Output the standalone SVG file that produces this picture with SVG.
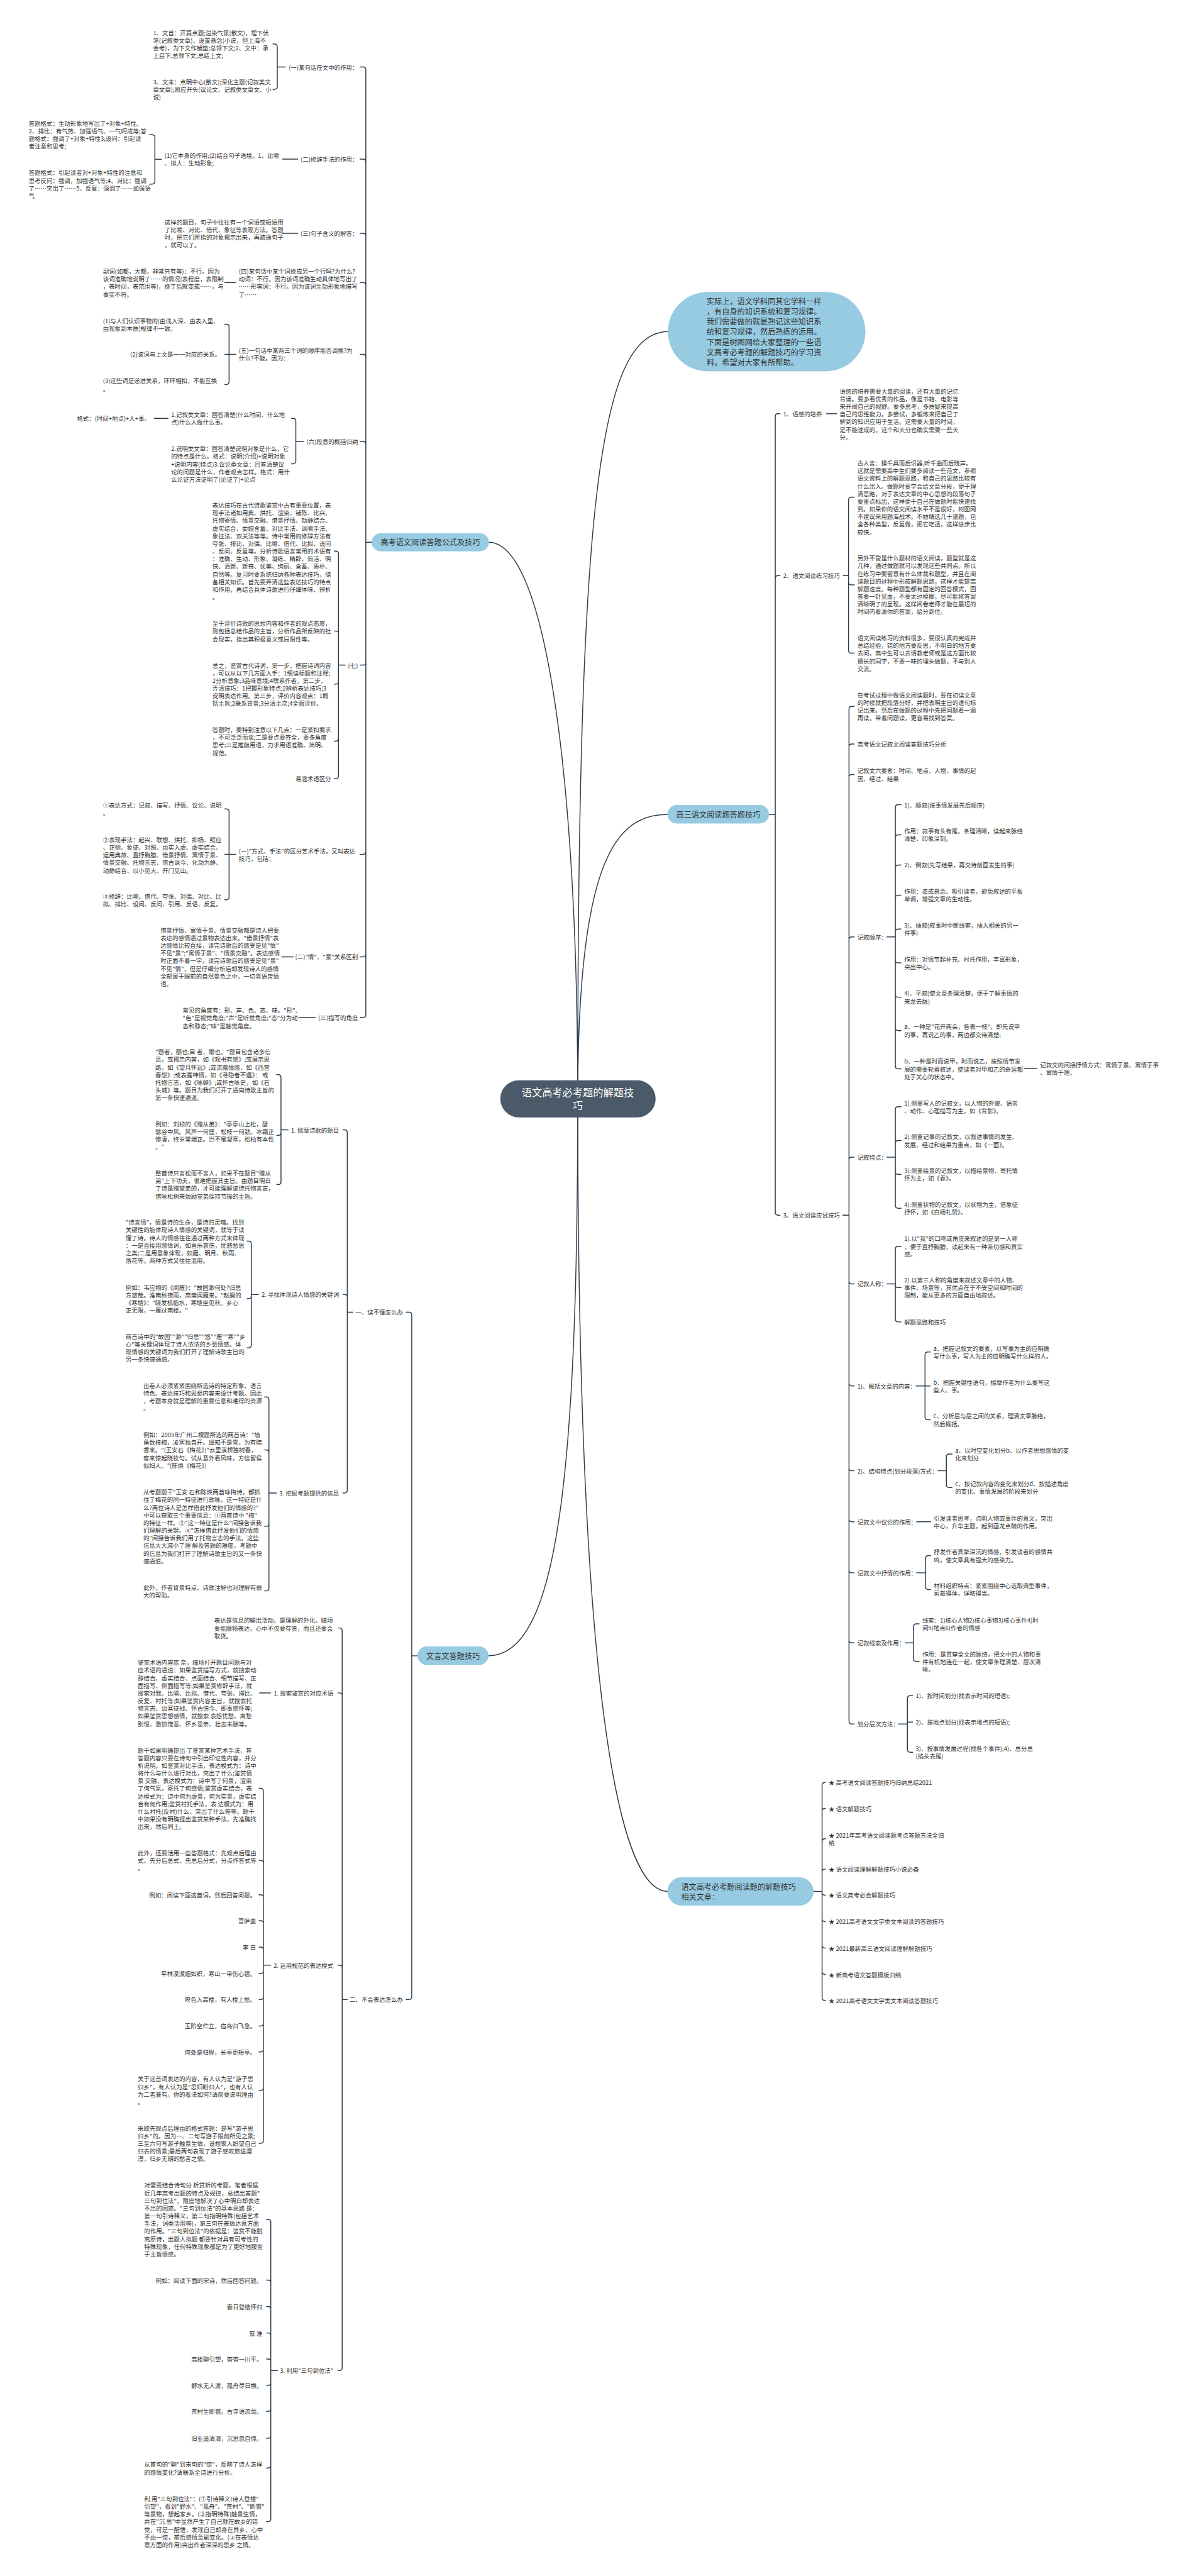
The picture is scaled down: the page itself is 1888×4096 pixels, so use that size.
<svg xmlns="http://www.w3.org/2000/svg" width="1888" height="4096" viewBox="0 0 1888 4096">
<style>
.t{font-family:"Noto Sans CJK SC","Noto Sans",sans-serif;font-size:12.8px;fill:#333;dominant-baseline:central}
.e{text-anchor:end}
.p{font-size:16.5px}
.m{text-anchor:middle}
.rt{font-family:"Noto Sans CJK SC","Noto Sans",sans-serif;font-size:22px;fill:#fff;text-anchor:middle;dominant-baseline:central}
.ln{fill:none;stroke:#2e3d4c;stroke-width:2}
.pill{fill:#96cbe2;stroke:#8cc3db;stroke-width:1}
.root{fill:#4b5a68}
</style>
<rect width="1888" height="4096" fill="#fff"/>
<g transform="scale(0.7375)">
<g id="connectors" class="ln">
<path d="M1246 2369 C1246 1100 1290 715 1441 715"/>
<path d="M1246 2369 C1246 1700 1180 1169 1054 1169"/>
<path d="M1246 2369 C1246 1850 1330 1756 1440 1756"/>
<path d="M1246 2369 C1246 3200 1200 3570 1053 3570"/>
<path d="M1246 2369 C1246 3700 1340 4078 1440 4078"/>
<path d="M802 1169 H789 V150.5 Q789 144.5 783 144.5 H776 M802 1169 H789 V349 Q789 343 783 343 H776 M802 1169 H789 V509 Q789 503 783 503 H776 M802 1169 H789 V615 Q789 609 783 609 H776 M802 1169 H789 V770 Q789 764 783 764 H776 M802 1169 H789 V958 Q789 952 783 952 H776 M802 1169 H789 V1428 Q789 1434 783 1434 H776 M802 1169 H789 V1836 Q789 1842 783 1842 H776 M802 1169 H789 V2057 Q789 2063 783 2063 H776 M802 1169 H789 V2188 Q789 2194 783 2194 H776"/>
<path d="M616 144.5 H598 V101 Q598 95 592 95 H588 M616 144.5 H598 V186.5 Q598 192.5 592 192.5 H588"/>
<path d="M643 343 H609 M643 503 H609 M509 609 H484 M363 902 H332 M633 2063 H607 M681 2194 H644"/>
<path d="M349 343.5 H334 V296.5 Q334 290.5 328 290.5 H322 M349 343.5 H334 V391 Q334 397 328 397 H322"/>
<path d="M509 764 H494 V705 Q494 699 488 699 H484 M509 764 H484 M509 764 H494 V823 Q494 829 488 829 H484"/>
<path d="M655 952 H638 V908 Q638 902 632 902 H628 M655 952 H638 V994 Q638 1000 632 1000 H628"/>
<path d="M745 1434 H730 V1194 Q730 1188 724 1188 H720 M745 1434 H730 V1366.5 Q730 1360.5 724 1360.5 H720 M745 1434 H730 V1469 Q730 1475 724 1475 H720 M745 1434 H730 V1592 Q730 1598 724 1598 H720 M745 1434 H730 V1673 Q730 1679 724 1679 H720"/>
<path d="M509 1842 H494 V1750 Q494 1744 488 1744 H484 M509 1842 H484 M509 1842 H494 V1934 Q494 1940 488 1940 H484"/>
<path d="M901 3570 H888 V2835 Q888 2829 882 2829 H875 M901 3570 H888 V4305 Q888 4311 882 4311 H875"/>
<path d="M762 2829 H749 V2442 Q749 2436 743 2436 H739 M762 2829 H749 V2797 Q749 2791 743 2791 H739 M762 2829 H749 V3213 Q749 3219 743 3219 H739"/>
<path d="M622 2436 H606 V2323 Q606 2317 600 2317 H596 M622 2436 H606 V2442 Q606 2448 600 2448 H596 M622 2436 H606 V2548 Q606 2554 600 2554 H596"/>
<path d="M558 2791 H542 V2682 Q542 2676 536 2676 H532 M558 2791 H542 V2794 Q542 2800 536 2800 H532 M558 2791 H542 V2900 Q542 2906 536 2906 H532"/>
<path d="M597 3219 H580 V3018 Q580 3012 574 3012 H570 M597 3219 H580 V3132 Q580 3126 574 3126 H570 M597 3219 H580 V3285 Q580 3291 574 3291 H570 M597 3219 H580 V3424 Q580 3430 574 3430 H570"/>
<path d="M750 4311 H738 V3516 Q738 3510 732 3510 H728 M750 4311 H738 V3656 Q738 3650 732 3650 H728 M750 4311 H738 V4243 Q738 4237 732 4237 H728 M750 4311 H738 V5105 Q738 5111 732 5111 H728"/>
<path d="M584 3650 H559"/>
<path d="M584 4237 H568 V3861.5 Q568 3855.5 562 3855.5 H558 M584 4237 H568 V4017 Q568 4011 562 4011 H558 M584 4237 H568 V4091 Q568 4085 562 4085 H558 M584 4237 H568 V4147 Q568 4141 562 4141 H558 M584 4237 H568 V4204 Q568 4198 562 4198 H558 M584 4237 H568 V4249 Q568 4255 562 4255 H558 M584 4237 H568 V4305 Q568 4311 562 4311 H558 M584 4237 H568 V4362 Q568 4368 562 4368 H558 M584 4237 H568 V4418 Q568 4424 562 4424 H558 M584 4237 H568 V4501 Q568 4507 562 4507 H558 M584 4237 H568 V4615 Q568 4621 562 4621 H558"/>
<path d="M599 5111 H584 V4791 Q584 4785 578 4785 H574 M599 5111 H584 V4922 Q584 4916 578 4916 H574 M599 5111 H584 V4979 Q584 4973 578 4973 H574 M599 5111 H584 V5036 Q584 5030 578 5030 H574 M599 5111 H584 V5092 Q584 5086 578 5086 H574 M599 5111 H584 V5137 Q584 5143 578 5143 H574 M599 5111 H584 V5193 Q584 5199 578 5199 H574 M599 5111 H584 V5251 Q584 5257 578 5257 H574 M599 5111 H584 V5315 Q584 5321 578 5321 H574 M599 5111 H584 V5430.5 Q584 5436.5 578 5436.5 H574"/>
<path d="M1658 1756 H1672 V898 Q1672 892 1678 892 H1683 M1658 1756 H1672 V1247 Q1672 1241 1678 1241 H1683 M1658 1756 H1672 V2614 Q1672 2620 1678 2620 H1683"/>
<path d="M1782 892 H1805"/>
<path d="M1818 1241 H1830 V1078 Q1830 1072 1836 1072 H1843 M1818 1241 H1830 V1255 Q1830 1261 1836 1261 H1843 M1818 1241 H1830 V1402 Q1830 1408 1836 1408 H1843"/>
<path d="M1817 2620 H1831 V1529 Q1831 1523 1837 1523 H1843 M1817 2620 H1831 V1610 Q1831 1604 1837 1604 H1843 M1817 2620 H1831 V1676 Q1831 1670 1837 1670 H1843 M1817 2620 H1831 V2026 Q1831 2020 1837 2020 H1843 M1817 2620 H1831 V2501 Q1831 2495 1837 2495 H1843 M1817 2620 H1831 V2762 Q1831 2768 1837 2768 H1843 M1817 2620 H1831 V2982 Q1831 2988 1837 2988 H1843 M1817 2620 H1831 V3165 Q1831 3171 1837 3171 H1843 M1817 2620 H1831 V3275 Q1831 3281 1837 3281 H1843 M1817 2620 H1831 V3385 Q1831 3391 1837 3391 H1843 M1817 2620 H1831 V3536 Q1831 3542 1837 3542 H1843 M1817 2620 H1831 V3711 Q1831 3717 1837 3717 H1843"/>
<path d="M1912 2020 H1931 V1741 Q1931 1735 1937 1735 H1944 M1912 2020 H1931 V1806 Q1931 1800 1937 1800 H1944 M1912 2020 H1931 V1871 Q1931 1865 1937 1865 H1944 M1912 2020 H1931 V1936 Q1931 1930 1937 1930 H1944 M1912 2020 H1931 V2009 Q1931 2003 1937 2003 H1944 M1912 2020 H1931 V2070 Q1931 2076 1937 2076 H1944 M1912 2020 H1931 V2144 Q1931 2150 1937 2150 H1944 M1912 2020 H1931 V2216 Q1931 2222 1937 2222 H1944 M1912 2020 H1931 V2298.5 Q1931 2304.5 1937 2304.5 H1944"/>
<path d="M2208 2304 H2237"/>
<path d="M1912 2495 H1931 V2392 Q1931 2386 1937 2386 H1944 M1912 2495 H1931 V2465 Q1931 2459 1937 2459 H1944 M1912 2495 H1931 V2526 Q1931 2532 1937 2532 H1944 M1912 2495 H1931 V2599 Q1931 2605 1937 2605 H1944"/>
<path d="M1912 2768 H1931 V2693 Q1931 2687 1937 2687 H1944 M1912 2768 H1931 V2770 Q1931 2776 1937 2776 H1944 M1912 2768 H1931 V2844 Q1931 2850 1937 2850 H1944"/>
<path d="M1975 2988 H1995 V2921 Q1995 2915 2001 2915 H2007 M1975 2988 H2007 M1975 2988 H1995 V3055 Q1995 3061 2001 3061 H2007"/>
<path d="M2022 3171 H2041 V3141 Q2041 3135 2047 3135 H2054 M2022 3171 H2041 V3201 Q2041 3207 2047 3207 H2054"/>
<path d="M1976 3281 H2008"/>
<path d="M1976 3391 H1996 V3360 Q1996 3354 2002 3354 H2008 M1976 3391 H1996 V3421 Q1996 3427 2002 3427 H2008"/>
<path d="M1952 3542 H1970 V3507 Q1970 3501 1976 3501 H1983 M1952 3542 H1970 V3576 Q1970 3582 1976 3582 H1983"/>
<path d="M1937 3717 H1957 V3662 Q1957 3656 1963 3656 H1969 M1937 3717 H1957 V3713 H1969 M1937 3717 H1957 V3772 Q1957 3778 1963 3778 H1969"/>
<path d="M1754 4078 H1773 V3849 Q1773 3843 1779 3843 H1781 M1754 4078 H1773 V3905 Q1773 3899 1779 3899 H1781 M1754 4078 H1773 V3970.5 Q1773 3964.5 1779 3964.5 H1781 M1754 4078 H1773 V4036 Q1773 4030 1779 4030 H1781 M1754 4078 H1773 V4080 Q1773 4086 1779 4086 H1781 M1754 4078 H1773 V4137 Q1773 4143 1779 4143 H1781 M1754 4078 H1773 V4194 Q1773 4200 1779 4200 H1781 M1754 4078 H1773 V4251 Q1773 4257 1779 4257 H1781 M1754 4078 H1773 V4307 Q1773 4313 1779 4313 H1781"/>
</g>

<g id="root"><rect class="root" x="1079" y="2329" width="335" height="80" rx="40"/><text class="rt" x="1246" y="2354">语文高考必考题的解题技<tspan x="1246" dy="29">巧</tspan></text></g>

<g id="intro"><rect class="pill" x="1441" y="630" width="425" height="170" rx="85"/><text class="t p" x="1524" y="649"><tspan x="1524">实际上，语文学科同其它学科一样</tspan><tspan x="1524" dy="22">，有自身的知识系统和复习规律。</tspan><tspan x="1524" dy="22">我们需要做的就是熟记这些知识系</tspan><tspan x="1524" dy="22">统和复习规律，然后熟练的运用。</tspan><tspan x="1524" dy="22">下面是树图网给大家整理的一些语</tspan><tspan x="1524" dy="22">文高考必考题的解题技巧的学习资</tspan><tspan x="1524" dy="22">料，希望对大家有所帮助。</tspan></text></g>

<g id="A0"><rect class="pill" x="802" y="1150" width="252" height="38" rx="19"/><text class="t p m" x="928" y="1169">高考语文阅读答题公式及技巧</text></g>
<g id="A1"><text class="t e" x="772" y="144.5">(一)某句话在文中的作用：</text></g>
<g id="A1a"><text class="t" x="330" y="70"><tspan x="330">1、文首：开篇点题;渲染气氛(散文)，埋下伏</tspan><tspan x="330" dy="16.5">笔(记叙类文章)，设置悬念(小说，但上海不</tspan><tspan x="330" dy="16.5">会考)，为下文作铺垫;总领下文;2、文中：承</tspan><tspan x="330" dy="16.5">上启下;总领下文;总结上文;</tspan></text></g>
<g id="A1b"><text class="t" x="330" y="176"><tspan x="330">3、文末：点明中心(散文);深化主题(记叙类文</tspan><tspan x="330" dy="16.5">章文章);照应开头(议论文、记叙类文章文、小</tspan><tspan x="330" dy="16.5">说)</tspan></text></g>
<g id="A2"><text class="t e" x="772" y="343">(二)修辞手法的作用：</text></g>
<g id="A2c"><text class="t" x="355" y="335"><tspan x="355">(1)它本身的作用;(2)结合句子语境。1、比喻</tspan><tspan x="355" dy="16.5">、拟人：生动形象;</tspan></text></g>
<g id="A2c1"><text class="t" x="62" y="265.5"><tspan x="62">答题格式：生动形象地写出了+对象+特性。</tspan><tspan x="62" dy="16.5">2、排比：有气势、加强语气、一气呵成等;答</tspan><tspan x="62" dy="16.5">题格式：强调了+对象+特性3;设问：引起读</tspan><tspan x="62" dy="16.5">者注意和思考;</tspan></text></g>
<g id="A2c2"><text class="t" x="62" y="372"><tspan x="62">答题格式：引起读者对+对象+特性的注意和</tspan><tspan x="62" dy="16.5">思考反问：强调，加强语气等;4、对比：强调</tspan><tspan x="62" dy="16.5">了……突出了……5、反复：强调了……加强语</tspan><tspan x="62" dy="16.5">气</tspan></text></g>
<g id="A3"><text class="t e" x="772" y="503">(三)句子含义的解答：</text></g>
<g id="A3a"><text class="t" x="355" y="478"><tspan x="355">这样的题目，句子中往往有一个词语或短语用</tspan><tspan x="355" dy="16.5">了比喻、对比、借代、象征等表现方法。答题</tspan><tspan x="355" dy="16.5">时，把它们所指的对象揭示出来，再疏通句子</tspan><tspan x="355" dy="16.5">，就可以了。</tspan></text></g>
<g id="A4"><text class="t" x="515" y="584.5"><tspan x="515">(四)某句话中某个词换成另一个行吗?为什么?</tspan><tspan x="515" dy="16.5">动词：不行。因为该词准确生动具体地写出了</tspan><tspan x="515" dy="16.5">……形容词：不行。因为该词生动形象地描写</tspan><tspan x="515" dy="16.5">了……</tspan></text></g>
<g id="A4a"><text class="t" x="222" y="584.5"><tspan x="222">副词(如都，大都，非常只有等)：不行。因为</tspan><tspan x="222" dy="16.5">该词准确地说明了……的情况(表程度，表限制</tspan><tspan x="222" dy="16.5">，表时间，表范围等)，换了后就变成……，与</tspan><tspan x="222" dy="16.5">事实不符。</tspan></text></g>
<g id="A5"><text class="t" x="515" y="755.5"><tspan x="515">(五)一句话中某两三个词的顺序能否调换?为</tspan><tspan x="515" dy="16.5">什么?不能。因为：</tspan></text></g>
<g id="A5a"><text class="t" x="222" y="691"><tspan x="222">(1)与人们认识事物的(由浅入深、由表入里、</tspan><tspan x="222" dy="16.5">由现象到本质)规律不一致。</tspan></text></g>
<g id="A5b"><text class="t e" x="476" y="764">(2)该词与上文是一一对应的关系。</text></g>
<g id="A5c"><text class="t" x="222" y="821"><tspan x="222">(3)这些词是递进关系，环环相扣，不能互换</tspan><tspan x="222" dy="16.5">。</tspan></text></g>
<g id="A6"><text class="t e" x="772" y="952">(六)段意的概括归纳</text></g>
<g id="A6a"><text class="t" x="369" y="894"><tspan x="369">1.记叙类文章：回答清楚(什么时间、什么地</tspan><tspan x="369" dy="16.5">点)什么人做什么事。</tspan></text></g>
<g id="A6a1"><text class="t" x="166" y="902">格式：(时间+地点)+人+事。</text></g>
<g id="A6b"><text class="t" x="369" y="967"><tspan x="369">2.说明类文章：回答清楚说明对象是什么，它</tspan><tspan x="369" dy="16.5">的特点是什么。格式：说明(介绍)+说明对象</tspan><tspan x="369" dy="16.5">+说明内容(特点)3.议论类文章：回答清楚议</tspan><tspan x="369" dy="16.5">论的问题是什么，作者观点怎样。格式：用什</tspan><tspan x="369" dy="16.5">么论证方法证明了(论证了)+论点</tspan></text></g>
<g id="A7"><text class="t e" x="772" y="1434">(七)</text></g>
<g id="A7a"><text class="t" x="458" y="1089"><tspan x="458">表达技巧在古代诗歌鉴赏中占有重要位置，表</tspan><tspan x="458" dy="16.5">现手法诸如用典、烘托、渲染、铺陈、比兴、</tspan><tspan x="458" dy="16.5">托物寄情、情景交融、借景抒情、动静结合、</tspan><tspan x="458" dy="16.5">虚实结合、委婉含蓄、对比手法、讽喻手法、</tspan><tspan x="458" dy="16.5">象征法、双关法等等。诗中常用的修辞方法有</tspan><tspan x="458" dy="16.5">夸张、排比、对偶、比喻、借代、比拟、设问</tspan><tspan x="458" dy="16.5">、反问、反复等。分析诗歌语言常用的术语有</tspan><tspan x="458" dy="16.5">：准确、生动、形象、凝练、精辟、简洁、明</tspan><tspan x="458" dy="16.5">快、清新、新奇、优美、绚丽、含蓄、质朴、</tspan><tspan x="458" dy="16.5">自然等。复习时要系统归纳各种表达技巧，储</tspan><tspan x="458" dy="16.5">备相关知识。首先要弄清这些表达技巧的特点</tspan><tspan x="458" dy="16.5">和作用，再结合具体诗歌进行仔细体味、辨析</tspan><tspan x="458" dy="16.5">。</tspan></text></g>
<g id="A7b"><text class="t" x="458" y="1344"><tspan x="458">至于评价诗歌的思想内容和作者的观点态度，</tspan><tspan x="458" dy="16.5">则包括总结作品的主旨，分析作品所反映的社</tspan><tspan x="458" dy="16.5">会现实，指出其积极意义或局限性等。</tspan></text></g>
<g id="A7c"><text class="t" x="458" y="1434"><tspan x="458">总之，鉴赏古代诗词，第一步，把握诗词内容</tspan><tspan x="458" dy="16.5">，可以从以下几方面入手：1细读标题和注释;</tspan><tspan x="458" dy="16.5">2分析意象;3品味意境;4联系作者。第二步，</tspan><tspan x="458" dy="16.5">弄清技巧：1把握形象特点;2辨析表达技巧;3</tspan><tspan x="458" dy="16.5">说明表达作用。第三步，评价内容观点：1概</tspan><tspan x="458" dy="16.5">括主旨;2联系背景;3分清主次;4全面评价。</tspan></text></g>
<g id="A7d"><text class="t" x="458" y="1573"><tspan x="458">答题时，要特别注意以下几点：一是紧扣要求</tspan><tspan x="458" dy="16.5">，不可泛泛而谈;二是要点要齐全，要多角度</tspan><tspan x="458" dy="16.5">思考;三是推敲用语，力求用语准确、简明、</tspan><tspan x="458" dy="16.5">规范。</tspan></text></g>
<g id="A7e"><text class="t e" x="714" y="1679">易混术语区分</text></g>
<g id="A8"><text class="t" x="515" y="1834"><tspan x="515">(一)"方式、手法"的区分艺术手法，又叫表达</tspan><tspan x="515" dy="16.5">技巧，包括：</tspan></text></g>
<g id="A8a"><text class="t" x="222" y="1736"><tspan x="222">①表达方式：记叙、描写、抒情、议论、说明</tspan><tspan x="222" dy="16.5">。</tspan></text></g>
<g id="A8b"><text class="t" x="222" y="1810"><tspan x="222">②表现手法：起兴、联想、烘托、抑扬、照应</tspan><tspan x="222" dy="16.5">、正侧、象征、对照、由实入虚、虚实结合、</tspan><tspan x="222" dy="16.5">运用典故、直抒胸臆、借景抒情、寓情于景、</tspan><tspan x="222" dy="16.5">情景交融、托物言志、借古讽今、化动为静、</tspan><tspan x="222" dy="16.5">动静结合、以小见大、开门见山。</tspan></text></g>
<g id="A8c"><text class="t" x="222" y="1932"><tspan x="222">③修辞：比喻、借代、夸张、对偶、对比、比</tspan><tspan x="222" dy="16.5">拟、排比、设问、反问、引用、反语、反复。</tspan></text></g>
<g id="A9"><text class="t e" x="772" y="2063">(二)"情"、"景"关系区别</text></g>
<g id="A9a"><text class="t" x="346" y="2005"><tspan x="346">借景抒情、寓情于景、情景交融都是诗人把要</tspan><tspan x="346" dy="16.5">表达的感情通过景物表达出来。"借景抒情"表</tspan><tspan x="346" dy="16.5">达感情比较直接，读完诗歌后的感受是见"情"</tspan><tspan x="346" dy="16.5">不见"景";"寓情于景"、"情景交融"。表达感情</tspan><tspan x="346" dy="16.5">时正面不着一字，读完诗歌后的感受是见"景"</tspan><tspan x="346" dy="16.5">不见"情"，但是仔细分析后却发现诗人的感情</tspan><tspan x="346" dy="16.5">全部寓于眼前的自然景色之中，一切景语皆情</tspan><tspan x="346" dy="16.5">语。</tspan></text></g>
<g id="A10"><text class="t e" x="772" y="2194">(三)描写的角度</text></g>
<g id="A10a"><text class="t" x="394" y="2178"><tspan x="394">常见的角度有：形、声、色、态、味。"形"、</tspan><tspan x="394" dy="16.5">"色"是视觉角度;"声"是听觉角度;"态"分为动</tspan><tspan x="394" dy="16.5">态和静态;"味"是触觉角度。</tspan></text></g>

<g id="B0"><rect class="pill" x="901" y="3550" width="152" height="39" rx="19.5"/><text class="t p m" x="977" y="3570">文言文答题技巧</text></g>
<g id="B1"><text class="t e" x="869" y="2829">一、读不懂怎么办</text></g>
<g id="B1a"><text class="t e" x="731" y="2436">1. 揣摩诗歌的题目</text></g>
<g id="B1a1"><text class="t" x="335" y="2267.5"><tspan x="335">"题者，额也;目 者，眼也。"题目包含诸多信</tspan><tspan x="335" dy="16.5">息，或揭示内容，如《观书有感》;或展示思</tspan><tspan x="335" dy="16.5">路，如《望月怀远》;或流露情感，如《西宫</tspan><tspan x="335" dy="16.5">春怨》;或表露神情，如《寻隐者不遇》： 或</tspan><tspan x="335" dy="16.5">托物言志，如《咏蝉》;或怀古咏史，如《石</tspan><tspan x="335" dy="16.5">头城》等。题目为我们打开了通向诗歌主旨的</tspan><tspan x="335" dy="16.5">第一条快速通道。</tspan></text></g>
<g id="B1a2"><text class="t" x="335" y="2423"><tspan x="335">例如：刘桢的《赠从弟》："亭亭山上松，瑟</tspan><tspan x="335" dy="16.5">瑟谷中风。风声一何盛，松枝一何劲。冰霜正</tspan><tspan x="335" dy="16.5">惨凄，终岁常端正。岂不罹凝寒，松柏有本性</tspan><tspan x="335" dy="16.5">。"</tspan></text></g>
<g id="B1a3"><text class="t" x="335" y="2529"><tspan x="335">整首诗只言松而不言人，如果不在题目"赠从</tspan><tspan x="335" dy="16.5">弟"上下功夫，很难把握其主旨。由题目明白</tspan><tspan x="335" dy="16.5">了诗是赠堂弟的，才可能理解该诗托物言志，</tspan><tspan x="335" dy="16.5">借咏松树来勉励堂弟保持节操的主旨。</tspan></text></g>
<g id="B1b"><text class="t e" x="731" y="2791">2. 寻找体现诗人情感的关键词</text></g>
<g id="B1b1"><text class="t" x="271" y="2635"><tspan x="271">"诗言情"，情是诗的生命，是诗的灵魂。找到</tspan><tspan x="271" dy="16.5">关键性的能体现诗人情感的关键词，就等于读</tspan><tspan x="271" dy="16.5">懂了诗。诗人的情感往往通过两种方式来体现</tspan><tspan x="271" dy="16.5">：一是直接用感情词，如喜乐哀伤，忧悲愁思</tspan><tspan x="271" dy="16.5">之类;二是用意象体现，如雁、明月、秋雨、</tspan><tspan x="271" dy="16.5">落花等。两种方式又往往混用。</tspan></text></g>
<g id="B1b2"><text class="t" x="271" y="2775"><tspan x="271">例如：韦应物的《闻雁》："故园渺何处?归思</tspan><tspan x="271" dy="16.5">方悠哉。淮南秋夜雨，高斋闻雁来。"赵嘏的</tspan><tspan x="271" dy="16.5">《寒塘》："晓发梳临水，寒塘坐见秋。乡心</tspan><tspan x="271" dy="16.5">正无限，一雁过南楼。"</tspan></text></g>
<g id="B1b3"><text class="t" x="271" y="2881"><tspan x="271">两首诗中的"故园""渺""归思""悠""雁""寒""乡</tspan><tspan x="271" dy="16.5">心"等关键词体现了诗人浓浓的乡愁情感。体</tspan><tspan x="271" dy="16.5">现情感的关键词为我们打开了理解诗歌主旨的</tspan><tspan x="271" dy="16.5">另一条快速通道。</tspan></text></g>
<g id="B1c"><text class="t e" x="731" y="3219">3. 挖掘考题提供的信息</text></g>
<g id="B1c1"><text class="t" x="309" y="2987"><tspan x="309">出卷人必须紧紧围绕所选诗的特定形象、语言</tspan><tspan x="309" dy="16.5">特色、表达技巧和思想内容来设计考题。因此</tspan><tspan x="309" dy="16.5">，考题本身就是理解的重要信息和难得的资源</tspan><tspan x="309" dy="16.5">。</tspan></text></g>
<g id="B1c2"><text class="t" x="309" y="3093"><tspan x="309">例如：2005年广州二模题所选的两首诗："墙</tspan><tspan x="309" dy="16.5">角数枝梅，凌寒独自开。遥知不是雪，为有暗</tspan><tspan x="309" dy="16.5">香来。"(王安石《梅花》)"云里溪桥独树春，</tspan><tspan x="309" dy="16.5">客来惊起晓妆匀。试从意外看风味，方信留侯</tspan><tspan x="309" dy="16.5">似妇人。"(陈焕《梅花》)</tspan></text></g>
<g id="B1c3"><text class="t" x="309" y="3216.5"><tspan x="309">从考题题干"王安 石和陈焕两首咏梅诗，都抓</tspan><tspan x="309" dy="16.5">住了梅花的同一特征进行歌咏，这一特征是什</tspan><tspan x="309" dy="16.5">么?两位诗人是怎样借此抒发他们的情感的?"</tspan><tspan x="309" dy="16.5">中可以获取三个重要信息：①两首诗中 "梅"</tspan><tspan x="309" dy="16.5">的特征一样。②"这一特征是什么"间接告诉我</tspan><tspan x="309" dy="16.5">们理解的关键。③"怎样借此抒发他们的情感</tspan><tspan x="309" dy="16.5">的"间接告诉我们用了托物言志的手法。这些</tspan><tspan x="309" dy="16.5">信息大大减小了理 解及答题的难度。考题中</tspan><tspan x="309" dy="16.5">的信息为我们打开了理解诗歌主旨的又一条快</tspan><tspan x="309" dy="16.5">速通道。</tspan></text></g>
<g id="B1c4"><text class="t" x="309" y="3422"><tspan x="309">此外，作者背景特点、诗歌注解也对理解有很</tspan><tspan x="309" dy="16.5">大的帮助。</tspan></text></g>
<g id="B2"><text class="t e" x="869" y="4311">二、不会表达怎么办</text></g>
<g id="B2x"><text class="t" x="462" y="3493.5"><tspan x="462">表达是信息的输出活动，是理解的外化。临场</tspan><tspan x="462" dy="16.5">要能顺畅表达，心中不仅要存货，而且还要会</tspan><tspan x="462" dy="16.5">取货。</tspan></text></g>
<g id="B2a"><text class="t e" x="719" y="3650">1. 搜索鉴赏的对应术语</text></g>
<g id="B2a1"><text class="t" x="297" y="3584"><tspan x="297">鉴赏术语内容庞 杂，临场打开题目问题与对</tspan><tspan x="297" dy="16.5">应术语的通道：如果鉴赏描写方式，就搜索动</tspan><tspan x="297" dy="16.5">静结合、虚实结合、点面结合、细节描写、正</tspan><tspan x="297" dy="16.5">面描写、侧面描写等;如果鉴赏修辞手法，就</tspan><tspan x="297" dy="16.5">搜索对我、比喻、比拟、借代、夸张、排比、</tspan><tspan x="297" dy="16.5">反复、衬托等;如果鉴赏内容主旨，就搜索托</tspan><tspan x="297" dy="16.5">物言志、边塞征战、怀古伤今、即事感怀等;</tspan><tspan x="297" dy="16.5">如果鉴赏思想感情，就搜索 哀怨忧愁、离愁</tspan><tspan x="297" dy="16.5">别恨、激愤憎恶、怀乡思亲、壮志未酬等。</tspan></text></g>
<g id="B2b"><text class="t e" x="719" y="4237">2. 运用规范的表达模式</text></g>
<g id="B2b1"><text class="t" x="297" y="3773"><tspan x="297">题干如果明确提出 了鉴赏某种艺术手法，其</tspan><tspan x="297" dy="16.5">答题内容只要在诗句中引出印证性内容，并分</tspan><tspan x="297" dy="16.5">析说明。如鉴赏对比手法，表达模式为：诗中</tspan><tspan x="297" dy="16.5">将什么与什么进行对比，突出了什么;鉴赏情</tspan><tspan x="297" dy="16.5">景 交融，表达模式为：诗中写了何景，渲染</tspan><tspan x="297" dy="16.5">了何气氛，寄托了何感情;鉴赏虚实结合，表</tspan><tspan x="297" dy="16.5">达模式为：诗中何为虚景，何为实景，虚实结</tspan><tspan x="297" dy="16.5">合有何作用;鉴赏衬托手法，表 达模式为：用</tspan><tspan x="297" dy="16.5">什么衬托(反衬)什么，突出了什么等等。题干</tspan><tspan x="297" dy="16.5">中如果没有明确提出鉴赏某种手法，先准确找</tspan><tspan x="297" dy="16.5">出来，然后同上。</tspan></text></g>
<g id="B2b2"><text class="t" x="297" y="3994.5"><tspan x="297">此外，还要活用一些答题格式：先观点后理由</tspan><tspan x="297" dy="16.5">式、先分后总式、先总后分式，分点作答式等</tspan><tspan x="297" dy="16.5">。</tspan></text></g>
<g id="B2b3"><text class="t e" x="552" y="4085">例如：阅读下面这首词，然后回答问题。</text></g>
<g id="B2b4"><text class="t e" x="552" y="4141">菩萨蛮</text></g>
<g id="B2b5"><text class="t e" x="552" y="4198">李 白</text></g>
<g id="B2b6"><text class="t e" x="552" y="4255">平林漠漠烟如织，寒山一带伤心碧。</text></g>
<g id="B2b7"><text class="t e" x="552" y="4311">暝色入高楼，有人楼上愁。</text></g>
<g id="B2b8"><text class="t e" x="552" y="4368">玉阶空伫立，宿鸟归飞急。</text></g>
<g id="B2b9"><text class="t e" x="552" y="4424">何处是归程，长亭更短亭。</text></g>
<g id="B2b10"><text class="t" x="297" y="4482"><tspan x="297">关于这首词表达的内容，有人认为是"游子思</tspan><tspan x="297" dy="16.5">归乡"，有人认为是"思妇盼归人"，也有人认</tspan><tspan x="297" dy="16.5">为二者兼有。你的看法如何?请简要说明理由</tspan><tspan x="297" dy="16.5">。</tspan></text></g>
<g id="B2b11"><text class="t" x="297" y="4588"><tspan x="297">采取先观点后理由的格式答题：是写"游子思</tspan><tspan x="297" dy="16.5">归乡"的。因为一、二句写游子眼前所见之景;</tspan><tspan x="297" dy="16.5">三至六句写游子触景生情，设想家人盼望自己</tspan><tspan x="297" dy="16.5">归去的情景;最后两句表现了游子感叹旅途漫</tspan><tspan x="297" dy="16.5">漫，归乡无期的愁苦之情。</tspan></text></g>
<g id="B2c"><text class="t e" x="719" y="5111">3. 利用"三句到位法"</text></g>
<g id="B2c1"><text class="t" x="311" y="4711"><tspan x="311">对需要结合诗句分 析赏析的考题，笔者根据</tspan><tspan x="311" dy="16.5">近几年高考出题的特点及规律，总结出答题"</tspan><tspan x="311" dy="16.5">三句到位法"，限度地解决了心中明白却表达</tspan><tspan x="311" dy="16.5">不出的困惑。"三句到位法"的基本思路 是：</tspan><tspan x="311" dy="16.5">第一句引诗释义，第二句指明特殊(包括艺术</tspan><tspan x="311" dy="16.5">手法，词类活用等)，第三句在表情达意方面</tspan><tspan x="311" dy="16.5">的作用。"三句到位法"的依据是：鉴赏不能脱</tspan><tspan x="311" dy="16.5">离原诗，出题人拟题 都要针对具有可考性的</tspan><tspan x="311" dy="16.5">特殊现象，任何特殊现象都是为了更好地服务</tspan><tspan x="311" dy="16.5">于主旨情感。</tspan></text></g>
<g id="B2c2"><text class="t e" x="566" y="4916">例如：阅读下面的宋诗，然后回答问题。</text></g>
<g id="B2c3"><text class="t e" x="566" y="4973">春日登楼怀归</text></g>
<g id="B2c4"><text class="t e" x="566" y="5030">寇 准</text></g>
<g id="B2c5"><text class="t e" x="566" y="5086">高楼聊引望，杳杳一川平。</text></g>
<g id="B2c6"><text class="t e" x="566" y="5143">野水无人渡，孤舟尽日横。</text></g>
<g id="B2c7"><text class="t e" x="566" y="5199">荒村生断霭，古寺语流莺。</text></g>
<g id="B2c8"><text class="t e" x="566" y="5257">旧业遥清渭，沉思忽自惊。</text></g>
<g id="B2c9"><text class="t" x="311" y="5313"><tspan x="311">从首句的"聊"到末句的"惊"，反映了诗人怎样</tspan><tspan x="311" dy="16.5">的感情变化?请联系全诗进行分析。</tspan></text></g>
<g id="B2c10"><text class="t" x="311" y="5387"><tspan x="311">利 用"三句到位法"：(①引诗释义)诗人登楼"</tspan><tspan x="311" dy="16.5">引望"，看到"野水"、"孤舟"、"荒村"、"断霭"</tspan><tspan x="311" dy="16.5">等景物，想起家乡。(②指明特殊)触景生情，</tspan><tspan x="311" dy="16.5">并在"沉 思"中显然产生了自己就在故乡的错</tspan><tspan x="311" dy="16.5">觉，可是一醒悟，发现自己却身在异乡，心中</tspan><tspan x="311" dy="16.5">不由一惊，前后感情急剧变化。(③在表情达</tspan><tspan x="311" dy="16.5">意方面的作用)突出作者深深的思乡 之情。</tspan></text></g>

<g id="C0"><rect class="pill" x="1440" y="1736" width="218" height="39" rx="19.5"/><text class="t p m" x="1549" y="1756">高三语文阅读题答题技巧</text></g>
<g id="C1"><text class="t" x="1689" y="892">1、语感的培养</text></g>
<g id="C1a"><text class="t" x="1811" y="843"><tspan x="1811">语感的培养需要大量的阅读，还有大量的记忆</tspan><tspan x="1811" dy="16.5">背诵。要多看优秀的作品，像是书籍、电影等</tspan><tspan x="1811" dy="16.5">来开阔自己的视野。要多思考，多质疑来提高</tspan><tspan x="1811" dy="16.5">自己的思维能力。多尝试，多锻炼来把自己了</tspan><tspan x="1811" dy="16.5">解到的知识应用于生活。这需要大量的时间，</tspan><tspan x="1811" dy="16.5">是不能速成的，这个和天分也确实需要一些天</tspan><tspan x="1811" dy="16.5">分。</tspan></text></g>
<g id="C2"><text class="t" x="1689" y="1241">2、语文阅读练习技巧</text></g>
<g id="C2a"><text class="t" x="1849" y="998"><tspan x="1849">古人言：操千具而后识器,听千曲而后晓声。</tspan><tspan x="1849" dy="16.5">这就是需要高中生们要多阅读一些范文，参照</tspan><tspan x="1849" dy="16.5">语文资料上的解题思路，和自己的思路比较有</tspan><tspan x="1849" dy="16.5">什么出入。做题时要学会给文章分段，便于理</tspan><tspan x="1849" dy="16.5">清思路，对于表达文章的中心思想的段落句子</tspan><tspan x="1849" dy="16.5">要重点标出，这样便于自己在做题时能快速找</tspan><tspan x="1849" dy="16.5">到。如果你的语文阅读水平不是很好，树图网</tspan><tspan x="1849" dy="16.5">不建议采用题海战术。不妨精选几十道题，包</tspan><tspan x="1849" dy="16.5">含各种类型，反复做，把它吃透，这样进步比</tspan><tspan x="1849" dy="16.5">较快。</tspan></text></g>
<g id="C2b"><text class="t" x="1849" y="1203"><tspan x="1849">另外不管是什么题材的语文阅读，题型就是这</tspan><tspan x="1849" dy="16.5">几种，通过做题就可以发现这些共同点。所以</tspan><tspan x="1849" dy="16.5">在练习中要留意有什么体裁和题型，并且在阅</tspan><tspan x="1849" dy="16.5">读题目的过程中形成解题思路，这样才能提高</tspan><tspan x="1849" dy="16.5">解题速度。每种题型都有固定的回答模式，回</tspan><tspan x="1849" dy="16.5">答要一针见血，不要太过模糊，尽可能将答案</tspan><tspan x="1849" dy="16.5">清晰明了的呈现。这样阅卷老师才能在最短的</tspan><tspan x="1849" dy="16.5">时间内看清你的答案，给分到位。</tspan></text></g>
<g id="C2c"><text class="t" x="1849" y="1375"><tspan x="1849">语文阅读练习的资料很多，要很认真的完成并</tspan><tspan x="1849" dy="16.5">总结经验，错的地方要反思，不明白的地方要</tspan><tspan x="1849" dy="16.5">去问，高中生可以去请教老师或是这方面比较</tspan><tspan x="1849" dy="16.5">擅长的同学，不要一味的埋头做题，不与别人</tspan><tspan x="1849" dy="16.5">交流。</tspan></text></g>
<g id="C3"><text class="t" x="1689" y="2620">3、语文阅读应试技巧</text></g>
<g id="C3a"><text class="t" x="1849" y="1498"><tspan x="1849">在考试过程中做语文阅读题时，要在初读文章</tspan><tspan x="1849" dy="16.5">的时候就把段落分好，并把表明主旨的语句标</tspan><tspan x="1849" dy="16.5">记出来。然后在做题的过程中先把问题看一遍</tspan><tspan x="1849" dy="16.5">再读，带着问题读，更容易找到答案。</tspan></text></g>
<g id="C3b"><text class="t" x="1849" y="1604">高考语文记叙文阅读答题技巧分析</text></g>
<g id="C3c"><text class="t" x="1849" y="1661.5"><tspan x="1849">记叙文六要素：时间、地点、人物、事情的起</tspan><tspan x="1849" dy="16.5">因、经过、结果</tspan></text></g>
<g id="C3d"><text class="t" x="1849" y="2020">记叙顺序：</text></g>
<g id="C3d1"><text class="t" x="1950" y="1735">1)、顺叙(按事情发展先后顺序)</text></g>
<g id="C3d2"><text class="t" x="1950" y="1791.5"><tspan x="1950">作用：叙事有头有尾，条理清晰，读起来脉络</tspan><tspan x="1950" dy="16.5">清楚、印象深刻。</tspan></text></g>
<g id="C3d3"><text class="t" x="1950" y="1865">2)、倒叙(先写结果，再交待前面发生的事)</text></g>
<g id="C3d4"><text class="t" x="1950" y="1921.5"><tspan x="1950">作用：造成悬念、吸引读者，避免叙述的平板</tspan><tspan x="1950" dy="16.5">单调，增强文章的生动性。</tspan></text></g>
<g id="C3d5"><text class="t" x="1950" y="1994.5"><tspan x="1950">3)、插叙(叙事时中断线索，插入相关的另一</tspan><tspan x="1950" dy="16.5">件事)</tspan></text></g>
<g id="C3d6"><text class="t" x="1950" y="2067.5"><tspan x="1950">作用：对情节起补充、衬托作用，丰富形象，</tspan><tspan x="1950" dy="16.5">突出中心。</tspan></text></g>
<g id="C3d7"><text class="t" x="1950" y="2141.5"><tspan x="1950">4)、平叙(使文章条理清楚，便于了解事情的</tspan><tspan x="1950" dy="16.5">来龙去脉)</tspan></text></g>
<g id="C3d8"><text class="t" x="1950" y="2213.5"><tspan x="1950">a、一种是"花开两朵，各表一枝"，即先说甲</tspan><tspan x="1950" dy="16.5">的事，再说乙的事，两边都交待清楚;</tspan></text></g>
<g id="C3d9"><text class="t" x="1950" y="2288"><tspan x="1950">b、一种是时而说甲，时而说乙，按照情节发</tspan><tspan x="1950" dy="16.5">展的需要轮番叙述，使读者对甲和乙的命运都</tspan><tspan x="1950" dy="16.5">处于关心的状态中。</tspan></text></g>
<g id="C3d9a"><text class="t" x="2243" y="2295.75"><tspan x="2243">记叙文的间接抒情方式：寓情于景、寓情于事</tspan><tspan x="2243" dy="16.5">、寓情于理。</tspan></text></g>
<g id="C3e"><text class="t" x="1849" y="2495">记叙特点：</text></g>
<g id="C3e1"><text class="t" x="1950" y="2377.75"><tspan x="1950">1).侧重写人的记叙文，以人物的外貌、语言</tspan><tspan x="1950" dy="16.5">、动作、心理描写为主，如《背影》。</tspan></text></g>
<g id="C3e2"><text class="t" x="1950" y="2450.75"><tspan x="1950">2).侧重记事的记叙文，以叙述事情的发生、</tspan><tspan x="1950" dy="16.5">发展、经过和结果为重点，如《一面》。</tspan></text></g>
<g id="C3e3"><text class="t" x="1950" y="2523.75"><tspan x="1950">3).侧重绘景的记叙文，以描绘景物、寄托情</tspan><tspan x="1950" dy="16.5">怀为主，如《春》。</tspan></text></g>
<g id="C3e4"><text class="t" x="1950" y="2596.75"><tspan x="1950">4).侧重状物的记叙文，以状物为主，借象征</tspan><tspan x="1950" dy="16.5">抒怀，如《白杨礼赞》。</tspan></text></g>
<g id="C3f"><text class="t" x="1849" y="2768">记叙人称：</text></g>
<g id="C3f1"><text class="t" x="1950" y="2670.5"><tspan x="1950">1).以"我"的口吻或角度来叙述的是第一人称</tspan><tspan x="1950" dy="16.5">，便于直抒胸臆，读起来有一种亲切感和真实</tspan><tspan x="1950" dy="16.5">感。</tspan></text></g>
<g id="C3f2"><text class="t" x="1950" y="2759.5"><tspan x="1950">2).以第三人称的角度来叙述文章中的人物、</tspan><tspan x="1950" dy="16.5">事件、场景等，其优点在于不受空间和时间的</tspan><tspan x="1950" dy="16.5">限制，能从更多的方面自由地叙述。</tspan></text></g>
<g id="C3f3"><text class="t" x="1950" y="2850">解题思路和技巧</text></g>
<g id="C3g"><text class="t" x="1849" y="2988">1)、概括文章的内容：</text></g>
<g id="C3g1"><text class="t" x="2013" y="2906.75"><tspan x="2013">a、把握记叙文的要素，以写事为主的应明确</tspan><tspan x="2013" dy="16.5">写什么事，写人为主的应明确写什么样的人。</tspan></text></g>
<g id="C3g2"><text class="t" x="2013" y="2979.75"><tspan x="2013">b、把握关键性语句，揣摩作者为什么要写这</tspan><tspan x="2013" dy="16.5">些人、事。</tspan></text></g>
<g id="C3g3"><text class="t" x="2013" y="3052.75"><tspan x="2013">c、分析层与层之间的关系，理清文章脉络，</tspan><tspan x="2013" dy="16.5">然后概括。</tspan></text></g>
<g id="C3h"><text class="t" x="1849" y="3171">2)、结构特点(划分段落)方式：</text></g>
<g id="C3h1"><text class="t" x="2060" y="3126.75"><tspan x="2060">a、以时空变化划分b、以作者思想感情的变</tspan><tspan x="2060" dy="16.5">化来划分</tspan></text></g>
<g id="C3h2"><text class="t" x="2060" y="3198.75"><tspan x="2060">c、按记叙内容的变化来划分d、按描述角度</tspan><tspan x="2060" dy="16.5">的变化、事情发展的阶段来划分</tspan></text></g>
<g id="C3i"><text class="t" x="1849" y="3281">记叙文中议论的作用：</text></g>
<g id="C3i1"><text class="t" x="2014" y="3272.75"><tspan x="2014">引发读者思考，点明人物或事件的意义，突出</tspan><tspan x="2014" dy="16.5">中心，升华主题，起到画龙点睛的作用。</tspan></text></g>
<g id="C3j"><text class="t" x="1849" y="3391">记叙文中抒情的作用：</text></g>
<g id="C3j1"><text class="t" x="2014" y="3345.75"><tspan x="2014">抒发作者真挚深沉的情感，引发读者的感情共</tspan><tspan x="2014" dy="16.5">鸣，使文章具有强大的感染力。</tspan></text></g>
<g id="C3j2"><text class="t" x="2014" y="3418.75"><tspan x="2014">材料组织特点：紧紧围绕中心选取典型事件，</tspan><tspan x="2014" dy="16.5">剪裁得体，详略得当。</tspan></text></g>
<g id="C3k"><text class="t" x="1849" y="3542">记叙线索及作用：</text></g>
<g id="C3k1"><text class="t" x="1989" y="3492.75"><tspan x="1989">线索：1)核心人物2)核心事物3)核心事件4)时</tspan><tspan x="1989" dy="16.5">间5)地点6)作者的情感</tspan></text></g>
<g id="C3k2"><text class="t" x="1989" y="3565.5"><tspan x="1989">作用：是贯穿全文的脉络，把文中的人物和事</tspan><tspan x="1989" dy="16.5">件有机地连在一起，使文章条理清楚、层次清</tspan><tspan x="1989" dy="16.5">晰。</tspan></text></g>
<g id="C3l"><text class="t" x="1849" y="3717">划分层次方法：</text></g>
<g id="C3l1"><text class="t" x="1975" y="3656">1)、按时间划分(找表示时间的短语);</text></g>
<g id="C3l2"><text class="t" x="1975" y="3713">2)、按地点划分(找表示地点的短语);</text></g>
<g id="C3l3"><text class="t" x="1975" y="3769.75"><tspan x="1975">3)、按事情发展过程(找各个事件);4)、总分总</tspan><tspan x="1975" dy="16.5">(掐头去尾)</tspan></text></g>

<g id="D0"><rect class="pill" x="1440" y="4048" width="314" height="60" rx="30"/><text class="t p" x="1469" y="4068"><tspan x="1469">语文高考必考题阅读题的解题技巧</tspan><tspan x="1469" dy="21">相关文章：</tspan></text></g>
<g id="D1"><text class="t" x="1787" y="3843">★ 高考语文阅读答题技巧归纳总结2021</text></g>
<g id="D2"><text class="t" x="1787" y="3899">★ 语文解题技巧</text></g>
<g id="D3"><text class="t" x="1787" y="3956"><tspan x="1787">★ 2021年高考语文阅读题考点答题方法全归</tspan><tspan x="1787" dy="16.5">纳</tspan></text></g>
<g id="D4"><text class="t" x="1787" y="4030">★ 语文阅读理解解题技巧小说必备</text></g>
<g id="D5"><text class="t" x="1787" y="4086">★ 语文高考必会解题技巧</text></g>
<g id="D6"><text class="t" x="1787" y="4143">★ 2021高考语文文学类文本阅读的答题技巧</text></g>
<g id="D7"><text class="t" x="1787" y="4200">★ 2021最新高三语文阅读理解解题技巧</text></g>
<g id="D8"><text class="t" x="1787" y="4257">★ 新高考语文答题模板归纳</text></g>
<g id="D9"><text class="t" x="1787" y="4313">★ 2021高考语文文学类文本阅读答题技巧</text></g>
</g>
</svg>
